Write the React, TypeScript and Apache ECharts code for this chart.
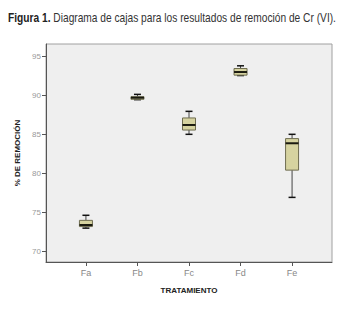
import React, { useEffect, useRef } from "react";
import * as echarts from "echarts";

const categories = ["Fa", "Fb", "Fc", "Fd", "Fe"];
const minValues = [72.95, 89.45, 85.0, 92.55, 76.9];
const q1Values = [73.15, 89.5, 85.55, 92.6, 80.4];
const medianValues = [73.35, 89.7, 86.2, 93.0, 83.85];
const q3Values = [73.95, 89.83, 87.1, 93.45, 84.45];
const maxValues = [74.6, 90.13, 87.95, 93.8, 85.0];
const yTicks = [70, 75, 80, 85, 90, 95];
const titleBold = "Figura 1.";
const titleText = "Diagrama de cajas para los resultados de remoción de Cr (VI).";

const FONT = "'Liberation Sans Narrow', 'Arial Narrow', 'Liberation Sans', Arial, sans-serif";

export default function App() {
  const ref = useRef<HTMLDivElement>(null);
  useEffect(() => {
    if (!ref.current) return;
    const chart = echarts.init(ref.current, undefined, { renderer: "svg" });
    const data = categories.map((_, i) => [i, minValues[i], q1Values[i], medianValues[i], q3Values[i], maxValues[i]]);
    chart.setOption({
      animation: false,
      backgroundColor: "#ffffff",
      graphic: [
        {
          type: "text",
          left: 8,
          top: 12,
          scaleX: 0.85,
          style: {
            text: "{b|" + titleBold + "} {n|" + titleText + "}",
            rich: {
              b: { fontFamily: FONT, fontSize: 12, fontWeight: "bold", fill: "#222" },
              n: { fontFamily: FONT, fontSize: 12, fill: "#333" },
            },
          },
        },
      ],
      grid: {
        left: 46,
        top: 44,
        width: 286,
        height: 218,
        show: true,
        backgroundColor: "#efefef",
        borderColor: "#a0a0a0",
        borderWidth: 1,
      },
      xAxis: {
        type: "value",
        min: -0.775,
        max: 4.775,
        name: "TRATAMIENTO",
        nameLocation: "middle",
        nameGap: 24,
        nameTextStyle: { fontFamily: FONT, fontSize: 8, fontWeight: "bold", color: "#222" },
        axisLine: { show: true, onZero: false, lineStyle: { color: "#555", width: 1 } },
        axisTick: { show: true, length: 4, customValues: [0, 1, 2, 3, 4], lineStyle: { color: "#555" } },
        axisLabel: {
          customValues: [0, 1, 2, 3, 4],
          formatter: (v: number) => categories[Math.round(v)],
          fontFamily: FONT,
          fontSize: 9,
          color: "#888",
          margin: 6,
        },
        splitLine: { show: false },
      },
      yAxis: {
        type: "value",
        min: 68.6,
        max: 96.6,
        name: "% DE REMOCIÓN",
        nameLocation: "middle",
        nameGap: 22,
        nameTextStyle: { fontFamily: FONT, fontSize: 8, fontWeight: "bold", color: "#222" },
        axisLine: { show: true, onZero: false, lineStyle: { color: "#555", width: 1 } },
        axisTick: { show: true, length: 4, customValues: yTicks, lineStyle: { color: "#555" } },
        axisLabel: {
          customValues: yTicks,
          fontFamily: FONT,
          fontSize: 8,
          color: "#999",
          margin: 5,
        },
        splitLine: { show: false },
      },
      series: [
        {
          type: "custom",
          data,
          encode: { x: 0, y: [1, 2, 3, 4, 5] },
          renderItem: (params: any, api: any) => {
            const x = api.value(0);
            const pMin = api.coord([x, api.value(1)]);
            const pQ1 = api.coord([x, api.value(2)]);
            const pMed = api.coord([x, api.value(3)]);
            const pQ3 = api.coord([x, api.value(4)]);
            const pMax = api.coord([x, api.value(5)]);
            const cx = pMin[0];
            const hw = 6.5;
            const cw = 3.5;
            const stem = { stroke: "#444", lineWidth: 1 };
            const cap = { stroke: "#111", lineWidth: 1.5 };
            return {
              type: "group",
              children: [
                { type: "line", shape: { x1: cx, y1: pMax[1], x2: cx, y2: pQ3[1] }, style: stem },
                { type: "line", shape: { x1: cx, y1: pQ1[1], x2: cx, y2: pMin[1] }, style: stem },
                { type: "line", shape: { x1: cx - cw, y1: pMax[1], x2: cx + cw, y2: pMax[1] }, style: cap },
                { type: "line", shape: { x1: cx - cw, y1: pMin[1], x2: cx + cw, y2: pMin[1] }, style: cap },
                {
                  type: "rect",
                  shape: { x: cx - hw, y: pQ3[1], width: hw * 2, height: Math.max(pQ1[1] - pQ3[1], 1) },
                  style: { fill: "#d6d3a0", stroke: "#6e6c50", lineWidth: 1 },
                },
                { type: "line", shape: { x1: cx - hw, y1: pMed[1], x2: cx + hw, y2: pMed[1] }, style: { stroke: "#1a1a10", lineWidth: 2 } },
              ],
            };
          },
        },
      ],
    });
    return () => chart.dispose();
  }, []);
  return <div ref={ref} style={{ width: 363, height: 310, position: "absolute", left: 0, top: 0 }} />;
}
